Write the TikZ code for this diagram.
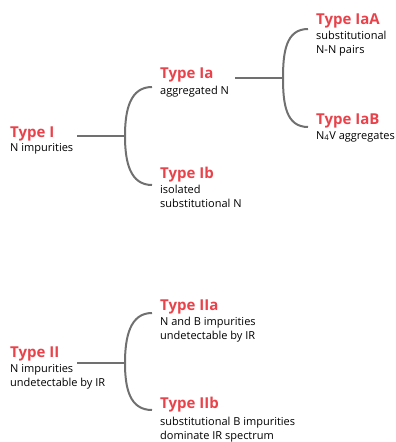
\documentclass[tikz,border=0pt]{standalone}
\usepackage{fontspec}
\setmainfont{Open Sans}
\definecolor{typered}{HTML}{E9424A}
\definecolor{forkgray}{HTML}{707070}

\tikzset{
  title/.style={anchor=base west, inner sep=0pt, text=typered, font=\fontsize{15}{17}\selectfont\bfseries},
  desc/.style={anchor=base west, inner sep=0pt, align=left, font=\fontsize{11}{14}\selectfont},
  fork/.style={draw=forkgray, line width=2pt}
}

\begin{document}
\begin{tikzpicture}[x=1pt, y=-1pt]
  \useasboundingbox (0,0) rectangle (396,442);

  % type I branch (desc nodes sit on their last baseline)
  \node[title] (I)   at (10,137) {Type I};
  \node[desc]  (Id)  at (10,151) {N impurities};
  \node[title] (Ia)  at (160,78) {Type Ia};
  \node[desc]  (Iad) at (160,94) {aggregated N};
  \node[title] (Ib)  at (160,178) {Type Ib};
  \node[desc]  (Ibd) at (160,207) {isolated\\substitutional N};
  \node[title] (IaA) at (316,24) {Type IaA};
  \node[desc]  (IaAd) at (316,53) {substitutional\\N-N pairs};
  \node[title] (IaB) at (316,124) {Type IaB};
  \node[desc]  (IaBd) at (316,139) {N\textsubscript{4}V aggregates};

  % type II branch
  \node[title] (II)   at (10,357) {Type II};
  \node[desc]  (IId)  at (10,386) {N impurities\\undetectable by IR};
  \node[title] (IIa)  at (160,310) {Type IIa};
  \node[desc]  (IIad) at (160,339) {N and B impurities\\undetectable by IR};
  \node[title] (IIb)  at (160,408) {Type IIb};
  \node[desc]  (IIbd) at (160,439) {substitutional B impurities\\dominate IR spectrum};

  % forks
  \coordinate (sI)  at (77,136);  \coordinate (jI)  at (125,136);
  \coordinate (sIa) at (235,78);  \coordinate (jIa) at (283,78);
  \coordinate (sII) at (77,363);  \coordinate (jII) at (125,363);
  \coordinate (uI)  at (152,87);  \coordinate (dI)  at (152,185);
  \coordinate (uIa) at (308,29);  \coordinate (dIa) at (308,127);
  \coordinate (uII) at (152,313); \coordinate (dII) at (152,410);

  \foreach \s/\j/\u/\d in {sI/jI/uI/dI, sIa/jIa/uIa/dIa, sII/jII/uII/dII}
  {
    \draw[fork] (\s) -- (\j);
    \draw[fork] (\u) .. controls ([xshift=-22pt]\u) and ([yshift=26pt]\j) .. (\j)
      .. controls ([yshift=-26pt]\j) and ([xshift=-22pt]\d) .. (\d);
  }
\end{tikzpicture}
\end{document}
